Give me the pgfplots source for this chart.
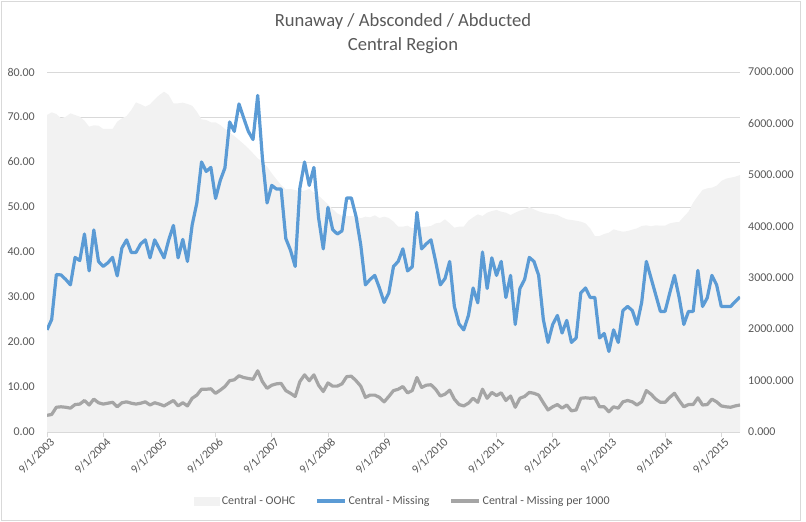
\documentclass[border=0pt]{standalone}
\usepackage{fontspec}
\setmainfont{Carlito}
\usepackage{pgfplots}
\usepackage{pgfplotstable}
\pgfplotsset{compat=1.18}
\definecolor{txtgray}{HTML}{595959}
\definecolor{gridgray}{HTML}{D9D9D9}
\definecolor{areagray}{HTML}{F2F2F2}
\definecolor{blueline}{HTML}{5B9BD5}
\definecolor{grayline}{HTML}{A5A5A5}

\pgfplotstableread{
m A M G
0 6164 22.7 3.7
1 6216 25.0 3.9
2 6183 35.0 5.5
3 6099 34.9 5.6
4 6131 33.9 5.5
5 6196 32.7 5.3
6 6164 38.8 6.1
7 6131 38.1 6.2
8 6054 44.0 7.0
9 5937 35.8 6.0
10 5963 44.9 7.3
11 5957 37.9 6.5
12 5892 36.8 6.2
13 5892 37.6 6.4
14 5892 38.8 6.6
15 6034 34.7 5.6
16 6099 40.9 6.5
17 6144 42.7 6.7
18 6261 39.9 6.4
19 6410 39.9 6.2
20 6372 41.8 6.4
21 6326 42.7 6.7
22 6372 38.7 6.0
23 6469 42.7 6.5
24 6553 40.7 6.2
25 6617 38.7 5.8
26 6553 42.7 6.4
27 6391 45.9 7.0
28 6391 38.7 5.8
29 6404 42.8 6.5
30 6378 37.9 5.8
31 6345 46.0 7.5
32 6228 50.9 8.2
33 6080 60.0 9.5
34 6067 57.9 9.5
35 6022 58.8 9.6
36 6022 51.9 8.6
37 5969 55.9 9.3
38 5892 58.7 10.1
39 5820 68.9 11.4
40 5756 66.8 11.6
41 5678 72.9 12.5
42 5600 69.8 12.1
43 5516 66.8 11.9
44 5419 65.0 11.7
45 5322 74.8 13.6
46 5256 60.9 11.2
47 5159 50.9 9.7
48 5030 54.8 10.4
49 4913 54.0 10.7
50 4803 54.0 10.8
51 4719 43.0 9.2
52 4725 40.4 8.6
53 4706 36.8 7.9
54 4680 54.2 11.2
55 4693 60.0 12.7
56 4725 54.8 11.4
57 4654 58.8 12.7
58 4596 47.6 10.4
59 4511 40.7 9.0
60 4427 49.9 10.9
61 4336 45.0 10.2
62 4252 44.0 10.2
63 4206 44.7 10.7
64 4200 52.0 12.3
65 4200 52.0 12.4
66 4187 47.9 11.4
67 4155 41.6 10.2
68 4187 32.7 7.7
69 4174 33.9 8.2
70 4213 34.8 8.2
71 4161 32.0 7.7
72 4187 28.8 6.7
73 4161 30.9 7.9
74 4090 36.8 9.2
75 3993 37.9 9.5
76 3993 40.7 10.1
77 4012 35.8 8.7
78 3960 36.7 9.2
79 3993 48.8 12.1
80 3980 40.7 9.9
81 3993 41.8 10.4
82 4006 42.7 10.5
83 4057 37.9 9.5
84 4070 32.7 8.0
85 4135 34.1 8.4
86 4057 37.9 9.3
87 3973 27.9 7.3
88 3993 24.0 6.1
89 3993 22.7 5.8
90 4109 25.9 6.4
91 4174 32.0 7.5
92 4232 28.7 6.6
93 4200 40.0 9.5
94 4265 31.9 7.5
95 4297 38.7 8.8
96 4317 34.8 8.1
97 4284 37.9 8.7
98 4265 29.9 7.0
99 4220 34.8 8.0
100 4265 23.9 5.5
101 4304 31.9 7.5
102 4330 33.9 7.9
103 4375 38.8 8.8
104 4330 37.9 8.6
105 4291 34.8 8.2
106 4265 25.0 6.5
107 4245 19.9 4.9
108 4239 23.9 5.6
109 4220 25.9 6.1
110 4174 22.0 5.3
111 4135 24.8 6.0
112 4122 19.9 4.7
113 4109 20.9 4.9
114 4090 30.9 7.5
115 4057 32.0 7.6
116 3960 29.9 7.5
117 3811 29.9 7.6
118 3811 20.9 5.6
119 3850 21.9 5.6
120 3876 17.9 4.5
121 3941 22.7 5.6
122 3915 19.9 5.3
123 3895 27.0 6.7
124 3908 27.9 7.0
125 3934 27.0 6.7
126 3960 23.9 6.0
127 4006 28.8 6.7
128 4019 37.9 9.2
129 3999 34.2 8.4
130 4019 30.5 7.3
131 4012 26.8 6.6
132 4012 26.8 6.6
133 4057 30.9 7.7
134 4077 34.8 8.6
135 4083 29.9 7.0
136 4187 23.9 5.6
137 4284 26.8 6.1
138 4459 26.8 6.1
139 4589 35.9 7.6
140 4706 27.9 6.0
141 4738 29.8 6.1
142 4751 34.8 7.3
143 4790 32.7 6.7
144 4881 27.9 5.8
145 4926 27.9 5.6
146 4945 27.9 5.5
147 4965 29.0 5.8
148 4997 30.0 6.0
}\data

\begin{document}
\begin{tikzpicture}
\useasboundingbox (-47bp,-90bp) rectangle (759bp,432bp);
\draw[gridgray, line width=0.75bp] (-46bp,-88bp) rectangle (753bp,431bp);
\pgfplotsset{base/.style={scale only axis, width=693bp, height=360bp,
  xmin=0, xmax=148, at={(0bp,0bp)}, anchor=south west,
  ticklabel style={font=\fontsize{12}{14}\selectfont, text=txtgray},
  scaled y ticks=false}}
% grid
\begin{axis}[base, ymin=0, ymax=80, ytick={10,20,...,80}, xtick=\empty,
  yticklabels={}, ymajorgrids, grid style={gridgray, line width=0.75bp},
  axis line style={draw=none}, tick style={draw=none}]
\end{axis}
% area on right axis
\begin{axis}[base, ymin=0, ymax=7000, axis x line=none, axis y line*=right,
  y axis line style={draw=none}, ytick={0,1000,...,7000}, ytick style={draw=none},
  yticklabel={\pgfmathprintnumber[fixed,fixed zerofill,precision=3,1000 sep={},assume math mode=true]{\tick}},
  yticklabel style={anchor=west, inner sep=0pt, xshift=8bp}]
\addplot[fill=areagray, draw=none] table[x=m, y=A] {\data} \closedcycle;
\end{axis}
% lines on left axis
\begin{axis}[base, ymin=0, ymax=80,
  axis x line*=bottom, axis y line*=left,
  x axis line style={gridgray, line width=0.75bp, -},
  y axis line style={draw=none},
  xtick={0,12,...,144},
  xticklabels={9/1/2003,9/1/2004,9/1/2005,9/1/2006,9/1/2007,9/1/2008,9/1/2009,9/1/2010,9/1/2011,9/1/2012,9/1/2013,9/1/2014,9/1/2015},
  xtick style={gridgray, line width=0.75bp}, ytick style={draw=none},
  tick align=outside, major tick length=5bp,
  xticklabel style={rotate=45, anchor=east, inner sep=1bp, xshift=3bp, yshift=-6bp},
  ytick={0,10,...,80},
  yticklabel={\pgfmathprintnumber[fixed,fixed zerofill,precision=2,assume math mode=true]{\tick}},
  yticklabel style={anchor=east, inner sep=0pt, xshift=-7bp},
  legend columns=3,
  legend style={at={(0.5137,-0.1917)}, anchor=center, draw=none, fill=none,
    font=\fontsize{12}{14}\selectfont, text=txtgray,
    /tikz/every even column/.append style={column sep=18bp}},
  ]
\addlegendimage{legend image code/.code={\fill[areagray] (0bp,-4bp) rectangle (25bp,4bp);}}
\addlegendentry{Central - OOHC}
\addplot[blueline, line width=3.2bp, line join=round,
  legend image code/.code={\draw[blueline, line width=3.2bp] (0bp,0bp) -- (28bp,0bp);}]
  table[x=m, y=M] {\data};
\addlegendentry{Central - Missing}
\addplot[grayline, line width=3.2bp, line join=round,
  legend image code/.code={\draw[grayline, line width=3.2bp] (0bp,0bp) -- (28bp,0bp);}]
  table[x=m, y=G] {\data};
\addlegendentry{Central - Missing per 1000}
\end{axis}
\node[font=\fontsize{18.67}{22}\selectfont, text=txtgray] at (356bp,410bp) {Runaway / Absconded / Abducted};
\node[font=\fontsize{18.67}{22}\selectfont, text=txtgray] at (356bp,386bp) {Central Region};
\end{tikzpicture}
\end{document}
